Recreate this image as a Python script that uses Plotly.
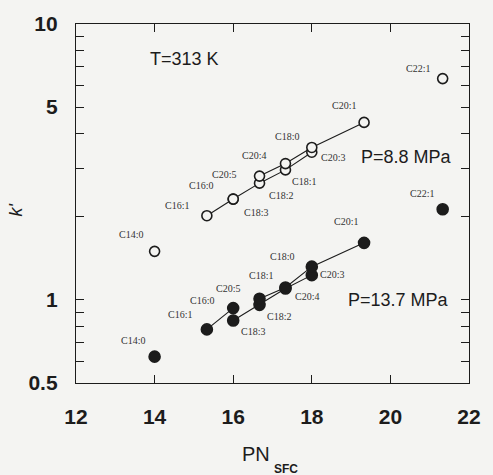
import math
import plotly.graph_objects as go

# Retention factor k' versus PN_SFC for fatty acid ethyl esters, T = 313 K
# Open circles: P = 8.8 MPa, filled circles: P = 13.7 MPa
names_88 = ["C14:0", "C16:1", "C16:0", "C18:3", "C18:2", "C20:5", "C18:1",
            "C20:4", "C18:0", "C20:3", "C20:1", "C22:1"]
pn_88 = [14.0, 15.33, 16.0, 16.0, 16.67, 16.67, 17.33, 17.33, 18.0, 18.0, 19.33, 21.33]
k_88 = [1.50, 2.02, 2.32, 2.32, 2.65, 2.81, 2.96, 3.12, 3.43, 3.57, 4.40, 6.34]

names_137 = ["C14:0", "C16:1", "C16:0", "C18:3", "C18:2", "C20:5", "C18:1",
             "C20:4", "C18:0", "C20:3", "C20:1", "C22:1"]
pn_137 = [14.0, 15.33, 16.0, 16.0, 16.67, 16.67, 17.33, 17.33, 18.0, 18.0, 19.33, 21.33]
k_137 = [0.623, 0.782, 0.934, 0.842, 0.96, 1.01, 1.10, 1.11, 1.23, 1.32, 1.61, 2.13]

# Homologous series joined by lines
series_lines = [
    ["C16:1", "C16:0"],
    ["C18:3", "C18:2", "C18:1", "C18:0"],
    ["C20:5", "C20:4", "C20:3", "C20:1"],
]

x_ticks = [12, 14, 16, 18, 20, 22]
y_labels = {0.5: "0.5", 1: "1", 5: "5", 10: "10"}
y_minor = [0.5, 0.6, 0.7, 0.8, 0.9, 1, 2, 3, 4, 5, 6, 7, 8, 9, 10]

# Label placement (pixel offsets from each marker)
offs_88 = {"C14:0": (-24, -17), "C16:1": (-30, -10), "C16:0": (-32, -14),
           "C18:3": (23, 13), "C18:2": (21, 12), "C20:5": (-36, -2),
           "C20:4": (-31, -8), "C18:1": (19, 12), "C18:0": (-25, -16),
           "C20:3": (21, 10), "C20:1": (-20, -17), "C22:1": (-25, -10)}
offs_137 = {"C14:0": (-22, -16), "C16:1": (-27, -15), "C16:0": (-31, -8),
            "C20:5": (-32, -10), "C18:3": (20, 11), "C18:2": (19, 12),
            "C18:1": (-24, -13), "C20:4": (22, 9), "C18:0": (-30, -19),
            "C20:3": (20, 8), "C20:1": (-18, -21), "C22:1": (-21, -16)}

INK = "#1c1c1c"
BG = "#f4f4f2"

fig = go.Figure()


def add_set(names, pn, k, filled):
    lookup = {n: (x, y) for n, x, y in zip(names, pn, k)}
    for grp in series_lines:
        fig.add_trace(go.Scatter(
            x=[lookup[n][0] for n in grp], y=[lookup[n][1] for n in grp],
            mode="lines", line=dict(color=INK, width=1.1),
            hoverinfo="skip", showlegend=False))
    fig.add_trace(go.Scatter(
        x=pn, y=k, mode="markers", text=names, showlegend=False,
        marker=dict(size=10 if not filled else 11,
                    color=INK if filled else BG,
                    symbol="circle",
                    line=dict(color=INK, width=1.6))))


add_set(names_88, pn_88, k_88, filled=False)
add_set(names_137, pn_137, k_137, filled=True)

# annotations on a log axis take log10 coordinates
annotations = []
for names, pn, k, offs in ((names_88, pn_88, k_88, offs_88),
                           (names_137, pn_137, k_137, offs_137)):
    for n, x, y in zip(names, pn, k):
        dx, dy = offs[n]
        annotations.append(dict(
            x=x, y=math.log10(y), xref="x", yref="y", yanchor="middle", xanchor="center",
            text=n, showarrow=False, xshift=dx, yshift=-dy,
            font=dict(family="Liberation Serif, Times New Roman", size=10, color="#333")))

text_font = dict(family="Liberation Sans, Arial", size=18, color=INK)
annotations += [
    dict(x=14.77, y=math.log10(7.45), xref="x", yref="y", text="T=313 K", showarrow=False,
         xanchor="center", yanchor="middle", font=text_font),
    dict(x=20.42, y=math.log10(3.29), xref="x", yref="y", text="P=8.8 MPa", showarrow=False,
         xanchor="center", yanchor="middle", font=text_font),
    dict(x=20.2, y=math.log10(1.0), xref="x", yref="y", text="P=13.7 MPa", showarrow=False,
         xanchor="center", yanchor="middle", font=text_font),
    dict(x=0, y=0.5, xref="paper", yref="paper", text="<i>k'</i>", showarrow=False,
         textangle=-90, xanchor="center", yanchor="middle", xshift=-61, yshift=-7,
         font=dict(family="Liberation Sans, Arial", size=18, color=INK)),
    dict(x=0.5, y=0, xref="paper", yref="paper", text="PN", showarrow=False,
         xanchor="center", yanchor="middle", xshift=-17, yshift=-71,
         font=dict(family="Liberation Sans, Arial", size=20, color=INK)),
    dict(x=0.5, y=0, xref="paper", yref="paper", text="<b>SFC</b>", showarrow=False,
         xanchor="center", yanchor="middle", xshift=13, yshift=-86,
         font=dict(family="Liberation Sans, Arial", size=12, color=INK)),
]

axis_common = dict(
    showline=True, linecolor=INK, linewidth=1.4, mirror="ticks",
    ticks="inside", ticklen=8, tickwidth=1, tickcolor=INK,
    showgrid=False, zeroline=False,
    tickfont=dict(family="Liberation Sans, Arial", size=21, color=INK, weight="bold"),
)

fig.update_layout(
    width=493, height=475,
    margin=dict(l=76, r=14, t=17, b=92),
    paper_bgcolor=BG, plot_bgcolor=BG,
    annotations=annotations,
    xaxis=dict(range=[12, 22], tickvals=x_ticks, ticktext=[str(v) for v in x_ticks],
               ticklabelstandoff=15, **axis_common),
    yaxis=dict(type="log", range=[-0.30103, 1], tickvals=y_minor,
               ticktext=[y_labels.get(v, "") for v in y_minor],
               ticklabelstandoff=13, **axis_common),
)

fig.write_html("out.html")
